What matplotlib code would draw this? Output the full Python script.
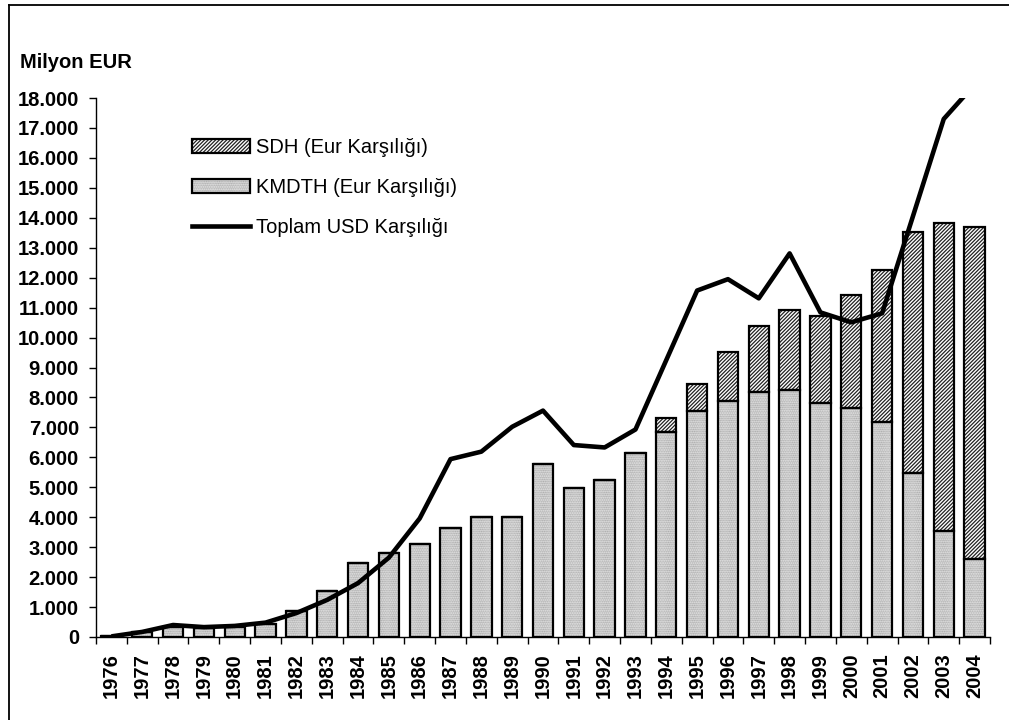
import matplotlib
matplotlib.use('Agg')
import matplotlib.pyplot as plt
import numpy as np
from matplotlib.patches import Patch
from matplotlib.lines import Line2D
from matplotlib.ticker import FuncFormatter, FixedLocator

years = list(range(1976, 2005))
kmdth = [30, 180, 330, 300, 330, 430, 880, 1550, 2480, 2790, 3100, 3630, 4020, 4020,
         5770, 4990, 5240, 6160, 6860, 7560, 7890, 8170, 8250, 7800, 7640, 7190, 5470,
         3540, 2600]
sdh = [0, 0, 0, 0, 0, 0, 0, 0, 0, 0, 0, 0, 0, 0,
       0, 0, 0, 0, 440, 890, 1630, 2230, 2670, 2930, 3770, 5070, 8060,
       10280, 11080]
toplam_usd = [20, 170, 400, 330, 370, 480, 800, 1240, 1800, 2650, 3960, 5940, 6190, 7020,
              7560, 6410, 6330, 6930, 9250, 11570, 11950, 11310, 12810, 10840, 10510, 10810,
              14050, 17300, 18450]

label_sdh = 'SDH (Eur Karşılığı)'
label_kmdth = 'KMDTH (Eur Karşılığı)'
label_line = 'Toplam USD Karşılığı'

plt.rcParams['font.family'] = ['Liberation Sans', 'DejaVu Sans']
plt.rcParams['hatch.linewidth'] = 0.9

HATCH_SDH = '/' * 9
HATCH_KM = '.' * 9
C_SDH = '#222222'
C_KM = '#8a8a8a'

fig = plt.figure(figsize=(10.09, 7.2), dpi=100)
ax = fig.add_axes([96/1009, 83/720, 894/1009, 539/720])

x = np.arange(len(years))
w = 0.66
ax.bar(x, kmdth, w, color='white', hatch=HATCH_KM, edgecolor=C_KM, linewidth=0, zorder=2)
ax.bar(x, sdh, w, bottom=kmdth, color='white', hatch=HATCH_SDH, edgecolor=C_SDH, linewidth=0, zorder=2)
ax.bar(x, kmdth, w, fill=False, edgecolor='black', linewidth=1.6, zorder=3)
ax.bar(x, sdh, w, bottom=kmdth, fill=False, edgecolor='black', linewidth=1.6, zorder=3)
ax.plot(x, toplam_usd, color='black', lw=3.3, zorder=5, solid_capstyle='butt')

ax.set_xlim(-0.5, len(years) - 0.5)
ax.set_ylim(0, 18000)

ax.set_xticks(x)
ax.set_xticklabels([str(y) for y in years], rotation=90, fontweight='bold', fontsize=14.5)
ax.xaxis.set_minor_locator(FixedLocator(np.arange(-0.5, len(years), 1)))
ax.tick_params(axis='x', which='major', length=0, pad=11.5)
ax.tick_params(axis='x', which='minor', length=5, width=1, direction='out')

ax.set_yticks(np.arange(0, 18001, 1000))
ax.yaxis.set_major_formatter(FuncFormatter(lambda v, p: f"{int(v):,}".replace(',', '.')))
ax.tick_params(axis='y', length=4.8, width=1, pad=7.5, labelsize=14.5)
for t in ax.get_yticklabels():
    t.set_fontweight('bold')

for s in ['top', 'right']:
    ax.spines[s].set_visible(False)
for s in ['left', 'bottom']:
    ax.spines[s].set_linewidth(1.0)

fig.text(20/1009, 1 - 62/720, 'Milyon EUR', fontweight='bold', fontsize=14.5, va='center', ha='left')

outline = Patch(facecolor='none', edgecolor='black', linewidth=1.6)
handles = [(Patch(facecolor='white', hatch=HATCH_SDH, edgecolor=C_SDH, linewidth=0), outline),
           (Patch(facecolor='white', hatch=HATCH_KM, edgecolor=C_KM, linewidth=0), outline),
           Line2D([], [], color='black', lw=3.3)]
ax.legend(handles, [label_sdh, label_kmdth, label_line], loc='upper left',
          bbox_to_anchor=(192/1009, 1 - 138/720), bbox_transform=fig.transFigure,
          frameon=False, borderpad=0, borderaxespad=0, handlelength=2.9,
          handleheight=0.7, handletextpad=0.3, labelspacing=1.05, fontsize=14.5)

fig.add_artist(Line2D([8.5/1009, 8.5/1009], [0, 1 - 4.5/720], transform=fig.transFigure,
                      color='black', lw=1.3))
fig.add_artist(Line2D([8.5/1009, 1], [1 - 4.5/720, 1 - 4.5/720], transform=fig.transFigure,
                      color='black', lw=1.3))

fig.savefig('out.png', dpi=100)
